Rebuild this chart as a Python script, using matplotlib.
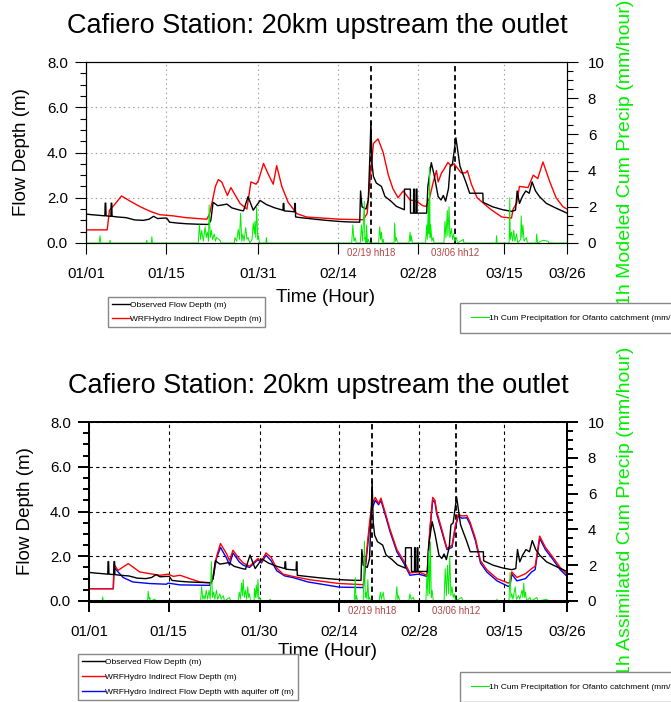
import numpy as np
import matplotlib.pyplot as plt
from matplotlib import font_manager
from matplotlib.lines import Line2D
from matplotlib.ticker import MultipleLocator, FormatStrFormatter

plt.rcParams['font.family'] = ['Liberation Sans', 'DejaVu Sans']

W, H = 671, 702

# x positions are days since 01/01 (hourly series)
tick_days = [0, 14, 30, 44, 58, 73, 84]
tick_labels_top = ['01/01', '01/15', '01/31', '02/14', '02/28', '03/15', '03/26']
tick_labels_bot = ['01/01', '01/15', '01/30', '02/14', '02/28', '03/15', '03/26']

event_days = [49.75, 64.5]
event_labels = ['02/19 hh18', '03/06 hh12']

# observed flow depth (m)
obs = np.array([
    (0, 1.28), (1, 1.25), (2, 1.23), (3.3, 1.2), (3.35, 1.76), (3.45, 1.76), (3.5, 1.2),
    (4.35, 1.18), (4.4, 1.76), (4.5, 1.76), (4.55, 1.18), (5.5, 1.15), (7, 1.12), (8.5, 1.02),
    (10, 1.0), (11, 1.05), (11.8, 1.18), (12.5, 1.08), (13.5, 1.1), (14.1, 1.1), (14.6, 0.92),
    (16, 0.88), (17.6, 0.85), (19.5, 0.83), (21.4, 0.82), (21.8, 1.0), (22.2, 1.8), (23, 1.65),
    (23.8, 1.68), (24.6, 1.72), (25.5, 1.55), (26.9, 1.45), (27.5, 1.42), (28.3, 2.05),
    (29.2, 1.45), (30.4, 1.88), (31.5, 1.7), (33, 1.55), (34.4, 1.45), (34.45, 1.75),
    (34.55, 1.75), (34.6, 1.42), (35.5, 1.4), (36.4, 1.38), (36.45, 1.75), (36.55, 1.75),
    (36.6, 1.15), (37.5, 1.12), (40, 1.05), (42, 1.0), (44.4, 0.95), (46, 0.93), (47.8, 0.92),
    (47.95, 2.3), (48.2, 1.6), (48.9, 1.5), (49.3, 1.9), (49.6, 4.0), (49.75, 5.35),
    (49.95, 3.5), (50.2, 2.94), (50.7, 2.65), (51.6, 2.5), (52.2, 2.06), (53.3, 1.84),
    (54.2, 1.62), (55.6, 1.47), (55.62, 2.38), (56.65, 2.38), (56.67, 1.32), (57.2, 1.32),
    (57.22, 2.38), (57.35, 2.38), (57.37, 1.32), (57.65, 1.32), (57.67, 2.38), (57.8, 2.38),
    (57.82, 1.32), (59.5, 1.32), (59.7, 2.5), (60.3, 3.55), (60.8, 3.0), (61.5, 2.05),
    (62.0, 1.9), (62.4, 2.1), (62.8, 1.85), (63.3, 2.4), (63.6, 3.4), (64.0, 3.5),
    (64.6, 4.65), (65.3, 3.4), (66.4, 2.65), (67.0, 2.2), (69.3, 2.2), (69.35, 1.8),
    (71.0, 1.6), (72.8, 1.47), (74.3, 1.4), (75.0, 1.45), (75.3, 2.3), (75.7, 1.75),
    (76.2, 2.05), (76.8, 2.3), (77.4, 2.2), (77.9, 2.7), (78.5, 2.3), (79.2, 2.05),
    (80.4, 1.75), (81.6, 1.6), (82.7, 1.47), (84, 1.32)])

# WRFHydro indirect flow depth, modeled precip run (m)
wrf_model = np.array([
    (0, 0.58), (3.7, 0.58), (4.1, 1.45), (5.0, 1.7), (6.2, 2.08), (7.7, 1.85), (9.5, 1.6),
    (11.2, 1.4), (12.9, 1.25), (15.2, 1.2), (17.5, 1.12), (21.1, 1.05), (21.6, 1.3),
    (22.6, 2.5), (23.1, 2.8), (23.7, 2.7), (24.7, 2.1), (25.3, 2.45), (26.9, 1.75),
    (28.1, 1.5), (28.8, 2.7), (29.7, 2.6), (30.1, 2.75), (31.0, 3.52), (31.9, 3.0),
    (32.7, 2.6), (33.3, 3.42), (34.2, 2.5), (35.3, 1.8), (36.8, 1.3), (38.5, 1.15),
    (44.4, 1.05), (48.4, 1.03), (49.1, 1.3), (49.6, 2.8), (50.2, 4.4), (51.0, 4.6),
    (51.9, 4.0), (52.8, 3.0), (53.6, 2.4), (54.5, 2.0), (55.4, 2.3), (56.6, 1.9),
    (57.7, 1.85), (58.8, 1.65), (59.4, 1.62), (60.0, 2.0), (60.6, 2.65), (61.2, 3.2),
    (61.5, 2.7), (62.1, 3.1), (62.5, 3.25), (63.2, 3.56), (63.8, 3.4), (64.3, 3.5),
    (65.5, 3.1), (66.3, 3.1), (66.6, 3.2), (67.3, 2.6), (68.3, 2.0), (70.6, 1.5),
    (72.6, 1.15), (74.3, 1.1), (74.6, 1.5), (75.2, 1.75), (75.7, 2.5), (77.2, 2.45),
    (78.1, 3.0), (78.9, 2.85), (79.8, 3.58), (81.0, 2.7), (82.1, 2.0), (83.3, 1.6),
    (84, 1.5)])

# WRFHydro indirect flow depth, assimilated precip run (m)
wrf_assim = np.array([
    (0, 0.55), (4.27, 0.55), (4.4, 1.64), (5.1, 1.37), (6.9, 1.67), (8.9, 1.3), (10.7, 1.22),
    (12.5, 1.15), (13.9, 1.2), (14.8, 1.1), (16.0, 1.15), (17.7, 1.0), (19.5, 0.85),
    (21.5, 0.8), (21.8, 1.1), (22.4, 1.97), (23.1, 2.57), (24.2, 2.1), (24.7, 1.8),
    (25.3, 2.27), (26.2, 1.95), (27.1, 1.7), (28.2, 1.55), (29.7, 1.9), (30.3, 1.75),
    (31.1, 2.15), (32.0, 1.95), (32.9, 1.5), (34.1, 1.2), (35.8, 1.1), (38.8, 0.95),
    (44.0, 0.78), (48.2, 0.73), (48.7, 2.0), (49.3, 3.5), (49.7, 4.3), (50.3, 4.63),
    (50.9, 4.35), (51.3, 4.6), (52.0, 4.0), (52.9, 3.2), (54.1, 2.3), (55.3, 1.8),
    (56.4, 1.25), (57.9, 1.3), (59.4, 1.15), (59.7, 2.5), (60.0, 3.5), (60.4, 4.63),
    (60.8, 4.5), (61.1, 4.0), (62.0, 3.2), (62.9, 2.35), (63.8, 2.5), (64.4, 3.4),
    (64.9, 3.88), (65.5, 3.8), (66.4, 3.82), (67.0, 3.5), (67.9, 2.8), (68.8, 1.8),
    (69.9, 1.4), (71.7, 1.0), (73.7, 0.8), (74.0, 0.85), (74.3, 1.3), (75.2, 1.05),
    (76.7, 1.22), (77.8, 1.45), (78.4, 1.55), (79.2, 2.9), (80.2, 2.4), (81.4, 2.0),
    (82.8, 1.5), (84, 1.2)])

# same run with aquifer off (m)
wrf_noaq = np.array([
    (0, 0.55), (4.27, 0.55), (4.4, 1.5), (6.0, 1.05), (7.7, 0.85), (10.7, 0.78), (13.6, 0.75),
    (13.9, 0.8), (16.0, 0.72), (21.2, 0.7), (21.8, 1.0), (22.4, 1.9), (23.1, 2.4),
    (24.2, 1.9), (24.7, 1.6), (25.3, 2.15), (26.4, 1.75), (27.1, 1.6), (28.2, 1.5),
    (29.7, 1.85), (30.3, 1.7), (31.1, 2.05), (32.0, 1.8), (33.0, 1.35), (34.4, 1.12),
    (35.8, 1.05), (38.5, 0.85), (44.0, 0.62), (48.2, 0.6), (48.7, 1.8), (49.3, 3.3),
    (49.7, 4.1), (50.3, 4.5), (50.9, 4.3), (51.3, 4.5), (52.0, 3.9), (52.9, 3.1),
    (54.1, 2.2), (55.3, 1.7), (56.4, 1.15), (57.9, 1.2), (59.4, 1.1), (59.7, 2.4),
    (60.0, 3.4), (60.4, 4.5), (60.8, 4.4), (61.1, 3.9), (62.0, 3.1), (62.9, 2.3),
    (63.8, 2.4), (64.4, 3.3), (64.9, 3.8), (65.5, 3.7), (66.4, 3.72), (67.0, 3.4),
    (67.9, 2.7), (68.8, 1.7), (69.9, 1.3), (71.7, 0.9), (73.7, 0.65), (74.0, 0.7),
    (74.3, 1.2), (75.2, 0.9), (76.7, 1.0), (77.8, 1.3), (78.4, 1.4), (79.2, 2.8),
    (80.2, 2.3), (81.4, 1.9), (82.8, 1.4), (84, 1.1)])

# 1h cumulated precipitation, modeled (mm/hour)
precip_model = np.array([
    (0, 0), (2.3, 0), (2.44, 0.4), (2.6, 0), (4.1, 0), (4.2, 0.15), (4.3, 0), (10.5, 0),
    (10.6, 0.15), (10.7, 0), (11.4, 0), (11.5, 0.35), (11.6, 0), (19.6, 0), (19.8, 1.0),
    (20.0, 0.2), (20.2, 0.7), (20.5, 0.1), (20.8, 0.9), (21.0, 0.3), (21.2, 0.6), (21.4, 0.1),
    (21.5, 2.1), (21.7, 0.3), (21.9, 0.7), (22.1, 0.2), (22.4, 0.5), (22.6, 0.1), (22.8, 0.3),
    (23.4, 0.15), (23.6, 0), (25.9, 0), (26.0, 0.3), (26.3, 0.1), (26.6, 0.75), (26.8, 0.2),
    (27.0, 1.65), (27.2, 0.1), (27.4, 0.5), (27.6, 0.1), (27.9, 0.85), (28.1, 0.2),
    (28.3, 0.3), (28.6, 0), (29.0, 0.2), (29.2, 1.1), (29.4, 0.5), (29.5, 1.2), (29.65, 0.3),
    (29.8, 2.0), (30.0, 0.2), (30.1, 0.4), (30.3, 0), (31.4, 0), (31.5, 0.3), (31.6, 0),
    (46.4, 0), (46.6, 1.0), (46.8, 0.1), (47.0, 0.3), (47.2, 0), (47.9, 0), (48.1, 1.0),
    (48.3, 0.1), (48.6, 2.3), (48.7, 0.2), (48.8, 0.3), (48.9, 0), (49.0, 1.0), (49.15, 0),
    (49.3, 0.2), (49.5, 0), (51.1, 0), (51.3, 0.9), (51.45, 0.2), (51.6, 0.6), (51.75, 0),
    (51.9, 0.2), (52.0, 0), (53.8, 0), (53.9, 1.1), (54.05, 0.1), (54.2, 0.3), (54.4, 0),
    (56.4, 0), (56.6, 0.6), (56.7, 0.1), (56.8, 0.4), (57.0, 0), (59.3, 0), (59.5, 1.0),
    (59.6, 0.2), (59.8, 2.3), (59.9, 0.5), (60.0, 4.2), (60.1, 0.3), (60.2, 1.0), (60.4, 0.1),
    (60.6, 0.3), (60.8, 0), (62.5, 0), (62.7, 1.2), (62.85, 0.3), (63.1, 1.8), (63.2, 0.4),
    (63.4, 2.0), (63.55, 0.3), (63.8, 0.8), (64.0, 0.2), (64.2, 0.5), (64.4, 0.1),
    (64.7, 0.3), (64.9, 0), (65.9, 0.2), (66.0, 0), (71.6, 0), (71.7, 0.4), (71.8, 0),
    (73.9, 0), (74.0, 2.5), (74.1, 0.2), (74.3, 0.6), (74.5, 0.1), (74.7, 0.7), (74.9, 0.1),
    (75.2, 0.5), (75.4, 0), (75.9, 0.2), (76.0, 1.5), (76.15, 0.3), (76.3, 1.0), (76.5, 0.1),
    (76.9, 0.3), (77.1, 0), (78.6, 0), (78.7, 0.5), (78.85, 0), (79.8, 0.15), (80.7, 0.1),
    (80.8, 0), (84, 0)])

# 1h cumulated precipitation, assimilated (mm/hour)
precip_assim = np.array([
    (0, 0), (2.3, 0), (2.4, 0.22), (2.5, 0), (10.3, 0), (10.4, 0.55), (10.55, 0.1),
    (10.7, 0.2), (10.8, 0), (11.6, 0.1), (11.7, 0), (19.6, 0), (19.8, 0.8), (20.0, 0.1),
    (20.2, 0.3), (20.4, 0.1), (20.6, 0.6), (20.85, 0.1), (21.1, 0.6), (21.3, 0.1),
    (21.5, 2.2), (21.7, 0.2), (21.9, 0.5), (22.1, 0.1), (22.4, 0.6), (22.6, 0.1), (23.0, 0.4),
    (23.2, 0.1), (23.6, 0.3), (23.8, 0), (24.7, 0.2), (24.9, 0), (26.2, 0), (26.4, 0.5),
    (26.6, 0.1), (26.8, 1.0), (26.95, 0.3), (27.1, 1.2), (27.3, 0.2), (27.5, 0.6),
    (27.7, 0.1), (27.9, 0.8), (28.05, 0.2), (28.2, 0.4), (28.4, 0), (29.0, 0), (29.1, 0.7),
    (29.25, 0.2), (29.4, 0.9), (29.55, 0.2), (29.7, 1.2), (29.85, 0.1), (30.0, 0.2),
    (30.2, 0), (31.7, 0), (31.8, 0.1), (32.0, 0), (46.6, 0), (46.8, 1.3), (46.9, 0.1),
    (47.0, 0.3), (47.2, 0), (48.2, 0), (48.4, 3.35), (48.55, 0.2), (48.7, 0.5), (48.85, 0.1),
    (49.0, 1.2), (49.15, 0.1), (49.3, 0.2), (49.5, 0), (51.0, 0), (51.2, 0.5), (51.4, 0.1),
    (51.7, 0.5), (51.9, 0), (53.9, 0), (54.1, 0.8), (54.25, 0.1), (54.4, 0.3), (54.6, 0),
    (56.2, 0), (56.4, 0.4), (56.6, 0.1), (57.0, 0.2), (57.2, 0), (59.2, 0), (59.4, 1.5),
    (59.55, 0.3), (59.7, 2.8), (59.85, 0.4), (60.0, 3.3), (60.15, 0.2), (60.3, 0.6),
    (60.5, 0), (62.4, 0), (62.6, 1.8), (62.8, 0.3), (63.0, 2.0), (63.2, 0.4), (63.4, 2.5),
    (63.6, 0.3), (63.8, 0.8), (64.0, 0.2), (64.2, 0.4), (64.4, 0), (65.5, 0.2), (65.7, 0),
    (71.6, 0), (71.7, 0.1), (71.8, 0), (73.8, 0), (74.0, 1.6), (74.15, 0.2), (74.3, 0.4),
    (74.5, 0.1), (74.9, 0.8), (75.1, 0.1), (75.5, 0.3), (75.7, 0.1), (76.1, 0.6), (76.25, 0.2),
    (76.4, 1.0), (76.55, 0.2), (76.7, 0.5), (76.9, 0), (77.5, 0.2), (77.7, 0), (78.7, 0.2),
    (78.9, 0), (80.5, 0.1), (80.6, 0), (84, 0)])

title = 'Cafiero Station: 20km upstream the outlet'
green = '#00ee00'
event_color = '#b04646'

# legend text is a condensed face in the original; use one if it is installed
installed = {f.name for f in font_manager.fontManager.ttflist}
if 'Liberation Sans Narrow' in installed:
    leg_family, leg_size = ['Liberation Sans Narrow', 'Liberation Sans'], 7.0
else:
    leg_family, leg_size = ['Liberation Sans', 'DejaVu Sans'], 6.0

fig = plt.figure(figsize=(W / 100, H / 100), dpi=100)


def setup_panel(ax, tick_labels, grid_style, spine_w):
    ax.set_xlim(0, 84)
    ax.set_ylim(0, 8)
    ax.set_xticks(tick_days)
    ax.set_xticklabels(tick_labels)
    ax.yaxis.set_major_locator(MultipleLocator(2))
    ax.yaxis.set_minor_locator(MultipleLocator(0.5))
    ax.yaxis.set_major_formatter(FormatStrFormatter('%.1f'))
    ax.tick_params(which='major', direction='out', length=8, width=spine_w, labelsize=10.8)
    ax.tick_params(which='minor', direction='out', length=4, width=spine_w)
    ax.tick_params(axis='x', pad=9)
    ax.tick_params(axis='y', pad=5)
    ax.grid(True, **grid_style)
    for s in ax.spines.values():
        s.set_linewidth(spine_w)
    for d, lab in zip(event_days, event_labels):
        ax.axvline(d, color='k', lw=1.3, linestyle=(0, (3, 2)))
        ax.text(d, -0.058, lab, transform=ax.get_xaxis_transform(), ha='center',
                va='center', color=event_color, fontsize=6.9)

    tw = ax.twinx()
    tw.set_ylim(0, 10)
    tw.yaxis.set_major_locator(MultipleLocator(2))
    tw.yaxis.set_minor_locator(MultipleLocator(0.5))
    tw.tick_params(which='major', direction='out', length=8, width=spine_w, labelsize=10.8, pad=7)
    tw.tick_params(which='minor', direction='out', length=4, width=spine_w)
    for s in tw.spines.values():
        s.set_linewidth(spine_w)
    return tw


# ---------------- top panel ----------------
ax1 = fig.add_axes([86 / W, 1 - 243 / H, 481 / W, 181 / H])
tw1 = setup_panel(ax1, tick_labels_top,
                  dict(color='#999999', linestyle=(0, (1.2, 3)), linewidth=0.8), 0.8)
ax1.plot(wrf_model[:, 0], wrf_model[:, 1], color='red', lw=1.0)
ax1.plot(obs[:, 0], obs[:, 1], color='black', lw=1.0)
tw1.plot(precip_model[:, 0], precip_model[:, 1], color=green, lw=0.7)

fig.text(317 / W, 1 - 33 / H, title, ha='center', va='baseline', fontsize=19.5)
fig.text(22 / W, 1 - 152.5 / H, 'Flow Depth (m)', rotation=90, ha='center', va='center', fontsize=13.5)
fig.text(326 / W, 1 - 297 / H, 'Time (Hour)', ha='center', va='center', fontsize=13.5)
fig.text(625 / W, 1 - 152.5 / H, '1h Modeled Cum Precip (mm/hour)', rotation=90,
         ha='center', va='center', fontsize=14, color=green)

# ---------------- bottom panel ----------------
ax2 = fig.add_axes([89 / W, 1 - 601 / H, 478 / W, 179 / H])
tw2 = setup_panel(ax2, tick_labels_bot,
                  dict(color='black', linestyle=(0, (3, 3)), linewidth=0.8), 1.4)
ax2.spines['bottom'].set_linewidth(2.2)
ax2.plot(wrf_noaq[:, 0], wrf_noaq[:, 1], color='blue', lw=1.0)
ax2.plot(wrf_assim[:, 0], wrf_assim[:, 1], color='red', lw=1.0)
ax2.plot(obs[:, 0], obs[:, 1], color='black', lw=1.0)
tw2.plot(precip_assim[:, 0], precip_assim[:, 1], color=green, lw=0.7)

fig.text(318 / W, 1 - 393 / H, title, ha='center', va='baseline', fontsize=19.5)
fig.text(25 / W, 1 - 511.5 / H, 'Flow Depth (m)', rotation=90, ha='center', va='center', fontsize=13.5)
fig.text(328 / W, 1 - 652 / H, 'Time (Hour)', ha='center', va='center', fontsize=13.5)
fig.text(625 / W, 1 - 511.5 / H, '1h Assimilated Cum Precip (mm/hour)', rotation=90,
         ha='center', va='center', fontsize=14, color=green)

# ---------------- legends ----------------
leg_kw = dict(loc='upper left', borderaxespad=0, handletextpad=0.05,
              prop={'family': leg_family, 'size': leg_size},
              fancybox=False, framealpha=1, edgecolor='#888888')
hl = 18 / (leg_size * 100 / 72)

h_obs = Line2D([], [], color='black', lw=1.0)
h_red = Line2D([], [], color='red', lw=1.0)
h_blue = Line2D([], [], color='blue', lw=1.0)
h_green = Line2D([], [], color=green, lw=0.8)

lg = fig.legend([h_obs, h_red], ['Observed Flow Depth (m)', 'WRFHydro Indirect Flow Depth (m)'],
                bbox_to_anchor=(108 / W, 1 - 297 / H), handlelength=hl, labelspacing=0.8,
                borderpad=0.45, **leg_kw)
lg.get_frame().set_linewidth(1.0)

lg = fig.legend([h_green], ['1h Cum Precipitation for Ofanto catchment (mm/hour)'],
                bbox_to_anchor=(460 / W, 1 - 303 / H), handlelength=hl, borderpad=1.3, **leg_kw)
lg.get_frame().set_linewidth(1.0)

lg = fig.legend([h_obs, h_red, h_blue],
                ['Observed Flow Depth (m)', 'WRFHydro Indirect Flow Depth (m)',
                 'WRFHydro Indirect Flow Depth with aquifer off (m)'],
                bbox_to_anchor=(78 / W, 1 - 654 / H), handlelength=hl * 1.25, labelspacing=0.85,
                borderpad=0.5, **leg_kw)
lg.get_frame().set_linewidth(1.0)

lg = fig.legend([h_green], ['1h Cum Precipitation for Ofanto catchment (mm/hour)'],
                bbox_to_anchor=(460 / W, 1 - 672 / H), handlelength=hl, borderpad=1.3, **leg_kw)
lg.get_frame().set_linewidth(1.0)

fig.savefig('out.png', dpi=100)
